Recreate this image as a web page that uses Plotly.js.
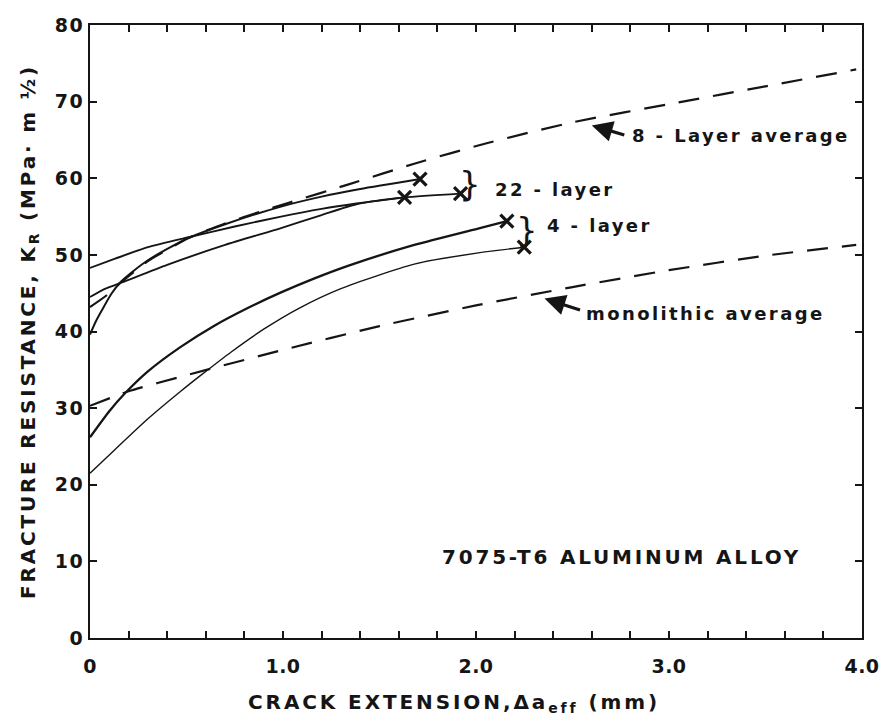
<!DOCTYPE html>
<html>
<head>
<meta charset="utf-8">
<script src="https://cdn.plot.ly/plotly-3.0.1.min.js"></script>
<style>
html,body{margin:0;padding:0;background:#fff;}
#chart{width:881px;height:724px;}
.xtick text{letter-spacing:0.5px;}
.ytick text{letter-spacing:1.5px;}
.ytitle{letter-spacing:2.8px;}
.annotation-text{letter-spacing:2.4px;}
</style>
</head>
<body>
<div id="chart"></div>
<script>
// ---- data (crack extension in mm, fracture resistance in MPa·m^1/2) ----
const specA_x = [0, 0.03, 0.06, 0.11, 0.16, 0.23, 0.30, 0.41, 0.51, 0.70, 0.99, 1.20, 1.40, 1.71];
const specA_y = [39.6, 41.3, 42.7, 44.9, 46.5, 48.0, 49.3, 50.9, 52.2, 54.0, 56.3, 57.6, 58.6, 59.9];

const specB_x = [0, 0.13, 0.30, 0.51, 0.75, 0.99, 1.20, 1.38, 1.63];
const specB_y = [48.3, 49.5, 51.0, 52.3, 53.7, 55.0, 56.0, 56.7, 57.5];

const specC_x = [0, 0.08, 0.165, 0.40, 0.70, 0.99, 1.20, 1.38, 1.63, 1.92];
const specC_y = [44.5, 45.6, 46.4, 48.7, 51.3, 53.5, 55.2, 56.6, 57.5, 58.0];

const layer4a_x = [0, 0.10, 0.18, 0.30, 0.47, 0.64, 0.82, 0.99, 1.16, 1.34, 1.68, 2.02, 2.16];
const layer4a_y = [26.2, 29.6, 31.9, 34.8, 38.0, 40.7, 43.1, 45.1, 46.9, 48.6, 51.3, 53.5, 54.4];

const layer4b_x = [0, 0.13, 0.30, 0.47, 0.58, 0.73, 0.90, 1.08, 1.30, 1.68, 2.02, 2.25];
const layer4b_y = [21.5, 24.6, 28.6, 32.2, 34.4, 37.3, 40.3, 43.0, 45.6, 48.8, 50.3, 51.0];

const mono_x = [0, 0.2, 0.5, 1.0, 1.5, 2.0, 2.5, 3.0, 3.5, 3.97];
const mono_y = [30.3, 32.2, 34.3, 37.6, 40.7, 43.4, 45.8, 48.0, 49.9, 51.3];

const avg8_x = [0, 0.08, 0.16, 0.30, 0.41, 0.51, 0.70, 0.89, 1.03, 1.34, 1.68, 2.06, 2.50, 3.05, 3.50, 3.97];
const avg8_y = [43.2, 44.6, 46.4, 49.2, 50.8, 52.2, 54.1, 55.7, 56.8, 59.2, 61.9, 64.6, 67.3, 69.9, 72.0, 74.2];

const xTickVals = [0, 0.2, 0.4, 0.6, 0.8, 1.0, 1.2, 1.4, 1.6, 1.8, 2.0, 2.2, 2.4, 2.6, 2.8, 3.0, 3.2, 3.4, 3.6, 3.8, 4.0];
const xTickText = ['0', '', '', '', '', '1.0', '', '', '', '', '2.0', '', '', '', '', '3.0', '', '', '', '', '4.0'];

const xTitle = 'CRACK EXTENSION,\u0394a<sub>eff</sub> (mm)';
const yTitle = 'FRACTURE RESISTANCE, K<sub>R</sub> (MPa\u00B7 m \u00BD)';

// ---- styling ----
const INK = '#151515';
const FONT = 'DejaVu Sans';

function solid(x, y, w) {
  return {x: x, y: y, mode: 'lines', type: 'scatter', hoverinfo: 'skip',
          line: {color: INK, width: w, shape: 'spline', smoothing: 0.6}, showlegend: false};
}
function dashed(x, y) {
  return {x: x, y: y, mode: 'lines', type: 'scatter', hoverinfo: 'skip',
          line: {color: INK, width: 2.2, dash: '21px,14px', shape: 'spline', smoothing: 0.6}, showlegend: false};
}
const solids = [[specA_x, specA_y, 2], [specB_x, specB_y, 1.9], [specC_x, specC_y, 1.9],
                [layer4a_x, layer4a_y, 2.3], [layer4b_x, layer4b_y, 1.4]];
const ends_x = solids.map(s => s[0][s[0].length - 1]);
const ends_y = solids.map(s => s[1][s[1].length - 1]);

const traces = [
  dashed(avg8_x, avg8_y),
  dashed(mono_x, mono_y),
  ...solids.map(s => solid(s[0], s[1], s[2])),
  {x: ends_x, y: ends_y, mode: 'markers', type: 'scatter', hoverinfo: 'skip', showlegend: false,
   marker: {symbol: 'x-thin', size: 13, color: INK, line: {color: INK, width: 3.2}}}
];

function txt(x, y, s, size, anchor) {
  return {x: x, y: y, xref: 'x', yref: 'y', text: s, showarrow: false,
          xanchor: anchor || 'left', yanchor: 'middle',
          font: {family: FONT, size: size, color: INK, weight: 'bold'}};
}
function brace(x, y) {
  return {x: x, y: y, xref: 'x', yref: 'y', text: '}', showarrow: false,
          xanchor: 'center', yanchor: 'middle',
          font: {family: FONT, size: 34, color: INK, weight: 'normal'}};
}
function arrow(x, y, ax, ay) {
  return {x: x, y: y, xref: 'x', yref: 'y', text: '', showarrow: true,
          ax: ax, ay: ay, arrowhead: 2, arrowsize: 1.3, arrowwidth: 3.2,
          arrowcolor: INK, standoff: 0, startstandoff: 0};
}

const layout = {
  width: 881, height: 724,
  paper_bgcolor: '#ffffff', plot_bgcolor: '#ffffff',
  margin: {l: 90, r: 19, t: 25, b: 86},
  font: {family: FONT, color: INK},
  showlegend: false,
  xaxis: {
    range: [0, 4], showgrid: false, zeroline: false,
    showline: true, linecolor: INK, linewidth: 2, mirror: 'ticks',
    ticks: 'inside', ticklen: 7, tickwidth: 2, tickcolor: INK,
    tickmode: 'array', tickvals: xTickVals, ticktext: xTickText,
    ticklabelstandoff: 10, ticklabeloverflow: 'allow',
    tickfont: {family: FONT, size: 19, color: INK, weight: 'bold'}
  },
  yaxis: {
    range: [0, 80], dtick: 10, showgrid: false, zeroline: false,
    showline: true, linecolor: INK, linewidth: 2, mirror: 'ticks',
    ticks: 'inside', ticklen: 7, tickwidth: 2, tickcolor: INK,
    ticklabelstandoff: 0,
    tickfont: {family: FONT, size: 19, color: INK, weight: 'bold'},
    title: {text: '\u00A0\u00A0\u00A0\u00A0' + yTitle, standoff: 14,
            font: {family: FONT, size: 20, color: INK, weight: 'bold'}}
  },
  annotations: [
    {xref: 'paper', yref: 'paper', x: 0.472, y: -0.106, xanchor: 'center', yanchor: 'middle',
     showarrow: false, text: '<span style="letter-spacing:2.9px">' + xTitle + '</span>',
     font: {family: FONT, size: 20, color: INK, weight: 'bold'}},
    txt(2.80, 65.6, '8 - Layer average', 18),
    arrow(2.60, 66.9, 34, 10),
    brace(1.975, 59.2),
    txt(2.087, 58.5, '22 - layer', 18),
    brace(2.268, 53.2),
    txt(2.355, 53.8, '4 - layer', 18),
    txt(2.562, 42.4, 'monolithic average', 18),
    arrow(2.355, 44.3, 37, 12),
    {x: 2.752, y: 10.6, xref: 'x', yref: 'y', showarrow: false, xanchor: 'center', yanchor: 'middle',
     text: '<span style="letter-spacing:2.8px">7075-T6 ALUMINUM ALLOY</span>',
     font: {family: FONT, size: 20, color: INK, weight: 'bold'}}
  ]
};

Plotly.newPlot('chart', traces, layout, {staticPlot: true, displayModeBar: false});
</script>
</body>
</html>
